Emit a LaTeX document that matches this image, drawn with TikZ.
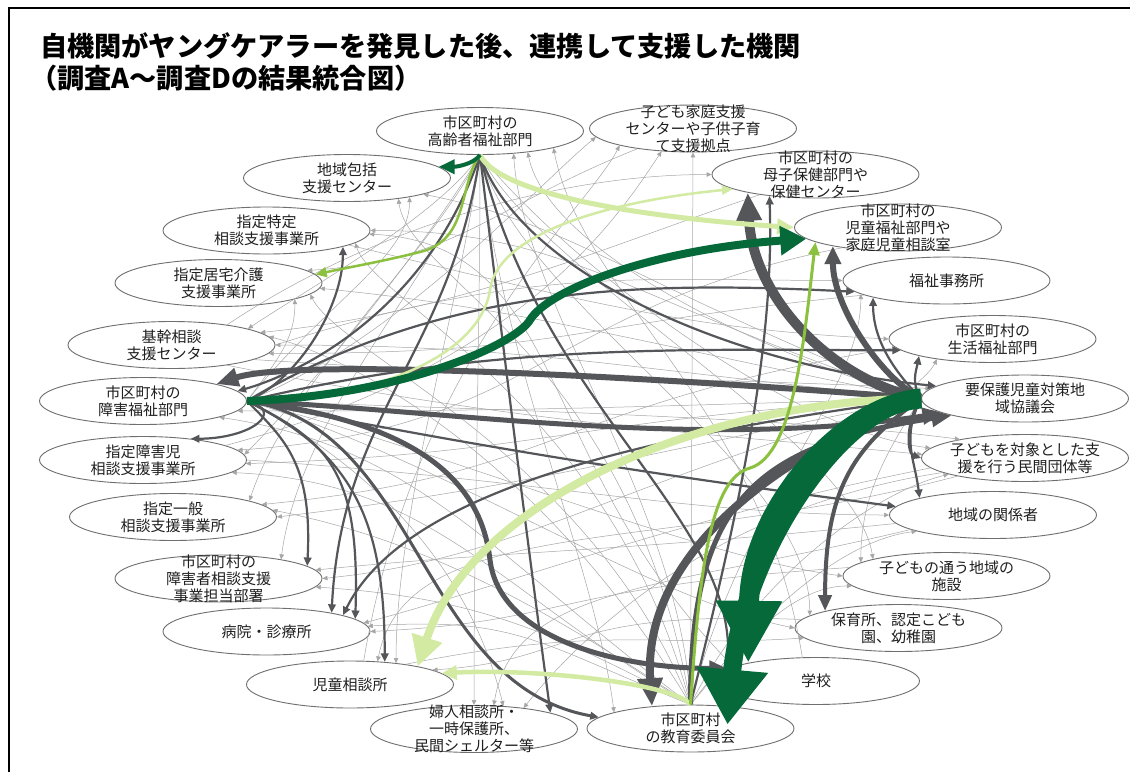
\documentclass[tikz,border=0pt]{standalone}
\usepackage{fontspec}
\setmainfont{Noto Sans CJK JP}
\usetikzlibrary{arrows.meta,shapes.geometric,calc}
\definecolor{dg}{HTML}{54565A}
\definecolor{tg}{HTML}{A6A6A6}
\definecolor{eb}{HTML}{6F6F6F}
\definecolor{dgreen}{HTML}{05693A}
\definecolor{lgreen}{HTML}{D2EAA2}
\definecolor{limeg}{HTML}{8BC13E}
\newcommand\orgnode[4]{\node[ell] (#1) at (#2,#3) {};\node[lbl] (#1-t) at (#1.center) {#4};}
\newcommand\thinc[4]{\draw[thinl] (#1) .. controls +(#2) and +(#3) .. (#4);}
\newcommand\midc[4]{\draw[midl] (#1) .. controls +(#2) and +(#3) .. (#4);}
\begin{document}
\begin{tikzpicture}[x=1pt,y=-1pt,
 ell/.style={ellipse,draw=eb,line width=0.9pt,minimum width=207pt,minimum height=47pt,inner sep=0pt,fill=white},
 lbl/.style={align=center,font=\fontsize{15}{17}\selectfont,text=black!88,inner sep=0pt},
 thinl/.style={draw=tg,line width=0.5pt,-{Triangle[length=5pt,width=4.5pt]}},
 midl/.style={draw=dg,line width=2.2pt,-{Triangle[length=8.5pt,width=7.5pt]}},
 ttl/.style={anchor=west,inner sep=0pt,font=\bfseries\fontsize{27.2}{31}\selectfont}]
\useasboundingbox (0,0) rectangle (1136,772);
\fill[white] (0,0) rectangle (1136,772);
\draw[line width=2.5pt] (9,772) -- (9,8) -- (1130,8);
\node[ttl] (title1) at (40,46) {自機関がヤングケアラーを発見した後、連携して支援した機関};
\node[ttl] (title2) at (30,78) {（調査A～調査Dの結果統合図）};
% nodes
\orgnode{koreisha}{480}{131}{市区町村の\\高齢者福祉部門}
\orgnode{kodomokatei}{693}{128.5}{子ども家庭支援\\センターや子供子育\\て支援拠点}
\orgnode{chiikihokatsu}{347}{178}{地域包括\\支援センター}
\orgnode{boshi}{815.5}{174.5}{市区町村の\\母子保健部門や\\保健センター}
\orgnode{shiteitokutei}{266.5}{230.5}{指定特定\\相談支援事業所}
\orgnode{jidofukushi}{898}{227.5}{市区町村の\\児童福祉部門や\\家庭児童相談室}
\orgnode{kyotaku}{218.5}{283}{指定居宅介護\\支援事業所}
\orgnode{fukushijimusho}{946.5}{280.5}{福祉事務所}
\orgnode{kikan}{171.5}{345}{基幹相談\\支援センター}
\orgnode{seikatsu}{992.5}{339}{市区町村の\\生活福祉部門}
\orgnode{shogai}{143}{401}{市区町村の\\障害福祉部門}
\orgnode{yogo}{1025}{398.5}{要保護児童対策地\\域協議会}
\orgnode{shogaiji}{143}{460}{指定障害児\\相談支援事業所}
\orgnode{minkan}{1025}{458}{子どもを対象とした支\\援を行う民間団体等}
\orgnode{ippan}{173}{517}{指定一般\\相談支援事業所}
\orgnode{chiiki}{993}{515}{地域の関係者}
\orgnode{shogaisoudan}{218.5}{578.5}{市区町村の\\障害者相談支援\\事業担当部署}
\orgnode{kayou}{946.5}{576}{子どもの通う地域の\\施設}
\orgnode{byoin}{266.5}{631.5}{病院・診療所}
\orgnode{hoikusho}{898.5}{628}{保育所、認定こども\\園、幼稚園}
\orgnode{jidosodan}{350}{684.5}{児童相談所}
\orgnode{gakko}{816}{681}{学校}
\orgnode{fujin}{474}{729}{婦人相談所・\\一時保護所、\\民間シェルター等}
\orgnode{kyoiku}{690.5}{728.5}{市区町村\\の教育委員会}
% thin connectors
\thinc{koreisha.south}{-40,60}{60,-40}{kikan.12}
\thinc{koreisha.south}{-40,120}{20,-150}{shogaisoudan.17}
\thinc{koreisha.south}{-50,100}{40,-120}{ippan.12}
\thinc{koreisha.south}{-60,100}{60,-60}{shogaiji.3}
\thinc{koreisha.south}{-20,150}{0,-150}{jidosodan.25}
\thinc{koreisha.south}{0,200}{0,-200}{fujin.90}
\thinc{koreisha.south}{20,200}{-20,-150}{kyoiku.168}
\thinc{koreisha.south}{40,150}{0,-150}{hoikusho.172}
\thinc{koreisha.south}{60,120}{-20,-120}{kayou.167}
\thinc{koreisha.south}{80,100}{-150,-20}{minkan.174}
\thinc{shogai.east}{150,-60}{-60,50}{kodomokatei.185}
\thinc{shogai.east}{200,50}{-150,-20}{kayou.180}
\thinc{shogai.east}{200,60}{-150,-30}{hoikusho.180}
\thinc{shogai.east}{150,80}{-30,-120}{fujin.38}
\thinc{shogai.east}{30,-40}{0,40}{kyotaku.-12}
\thinc{shogai.east}{80,-100}{0,60}{chiikihokatsu.-17}
\thinc{shogai.east}{300,10}{-150,-20}{minkan.164}
\thinc{yogo.west}{-150,-40}{20,100}{koreisha.-24}
\thinc{yogo.west}{-20,-10}{-10,20}{seikatsu.200}
\thinc{yogo.west}{-300,-30}{250,0}{kikan.0}
\thinc{yogo.west}{-300,-60}{200,20}{kyotaku.-3}
\thinc{yogo.west}{-300,-100}{200,0}{shiteitokutei.0}
\thinc{yogo.west}{-300,-120}{150,30}{chiikihokatsu.-12}
\thinc{yogo.west}{-40,60}{0,-60}{kayou.171}
\thinc{yogo.west}{-300,80}{200,-20}{shogaisoudan.0}
\thinc{yogo.west}{-300,60}{250,-30}{ippan.0}
\thinc{yogo.west}{-350,20}{300,-10}{shogaiji.-2}
\thinc{yogo.west}{-350,10}{300,0}{shogai.-6}
\thinc{kyoiku.north}{-10,-200}{10,150}{koreisha.-34}
\draw[thinl] (kyoiku.north) -- (kodomokatei.south);
\thinc{kyoiku.north}{50,-200}{0,100}{fukushijimusho.189}
\thinc{kyoiku.north}{60,-120}{-80,20}{minkan.192}
\thinc{kyoiku.north}{60,-80}{-80,10}{chiiki.192}
\thinc{kyoiku.north}{50,-60}{-60,0}{kayou.186}
\thinc{kyoiku.north}{-150,-100}{150,30}{ippan.4}
\thinc{kyoiku.north}{-100,-250}{30,60}{kyotaku.-7}
\thinc{kyoiku.north}{-80,-300}{20,60}{shiteitokutei.-8}
\thinc{kyoiku.north}{-60,-350}{10,80}{chiikihokatsu.-22}
\thinc{kyoiku.north}{-150,-250}{80,20}{kikan.5}
\thinc{kyoiku.north}{-150,-60}{150,-10}{byoin.3}
\thinc{kyoiku.north}{-150,-80}{150,10}{shogaisoudan.-5}
\thinc{kyoiku.north}{-200,-150}{200,30}{shogai.-12}
\thinc{kyoiku.north}{-200,-120}{200,10}{shogaiji.-8}
\thinc{kikan.20}{150,-100}{-150,0}{boshi.180}
\thinc{kikan.0}{250,-80}{-200,0}{fukushijimusho.180}
\thinc{shiteitokutei.-10}{250,60}{-200,-10}{seikatsu.180}
\thinc{kikan.-10}{300,20}{-200,-10}{yogo.174}
\thinc{kikan.-20}{300,60}{-200,-20}{minkan.178}
\thinc{shogaiji.0}{300,20}{-200,0}{chiiki.180}
\thinc{jidosodan.20}{200,-40}{-150,10}{hoikusho.186}
\thinc{minkan.190}{-200,30}{80,-100}{fujin.23}
\thinc{minkan.186}{-250,50}{150,-40}{byoin.5}
\thinc{boshi.200}{-150,50}{200,-20}{kikan.8}
\thinc{gakko.120}{-40,-250}{30,150}{koreisha.-13}
\thinc{gakko.170}{-200,-200}{200,10}{shiteitokutei.-2}
\thinc{jidosodan.60}{50,-300}{-30,60}{kodomokatei.193}
\thinc{shogaiji.10}{300,-80}{-40,60}{kodomokatei.216}
\thinc{chiiki.185}{-300,30}{200,-20}{shogaisoudan.5}
\thinc{kayou.175}{-300,20}{200,-10}{byoin.0}
\thinc{hoikusho.175}{-250,-10}{150,-10}{jidosodan.10}
\thinc{jidofukushi.200}{-300,60}{300,-20}{shogaiji.6}
\thinc{fukushijimusho.190}{-300,30}{300,0}{kikan.-5}
\thinc{seikatsu.185}{-350,60}{300,-30}{ippan.8}
\thinc{kodomokatei.200}{-150,60}{150,-10}{kyotaku.8}
\thinc{minkan.195}{-300,80}{30,-150}{jidosodan.40}
\thinc{chiiki.190}{-250,60}{20,-120}{fujin.50}
% medium gray connectors
\midc{koreisha.south}{-50,150}{70,-20}{shogai.6}
\midc{koreisha.south}{-30,200}{10,-200}{byoin.16}
\midc{koreisha.south}{60,250}{10,-150}{gakko.172}
\midc{koreisha.south}{30,250}{-20,-150}{fujin.12}
\midc{koreisha.south}{40,120}{-200,-20}{yogo.172}
\midc{shogai.east}{50,-20}{0,60}{shiteitokutei.-12}
\midc{shogai.east}{40,10}{60,0}{shogaiji.24}
\midc{shogai.east}{40,40}{5,-100}{shogaisoudan.8}
\midc{shogai.east}{80,40}{5,-150}{byoin.8}
\midc{shogai.east}{100,50}{0,-150}{jidosodan.33}
\draw[midl,line width=3pt] (shogai.east) .. controls +(173,26) and +(-180,-32) .. (kyoiku.173);
\midc{shogai.east}{250,-60}{-200,0}{seikatsu.187}
\midc{shogai.east}{200,-120}{-200,-10}{fukushijimusho.187}
\midc{shogai.east}{300,60}{-150,-20}{chiiki.175}
\midc{yogo.west}{-300,40}{60,-120}{byoin.12}
\midc{yogo.west}{-20,40}{-5,-40}{chiiki.167}
\midc{yogo.west}{-30,-30}{0,40}{fukushijimusho.193}
\midc{yogo.west}{-10,-15}{-3,15}{seikatsu.193}
\midc{yogo.west}{-15,20}{-15,-5}{minkan.180}
\midc{kyoiku.north}{50,-200}{5,150}{boshi.205}
% thick gray connectors
\draw[color=dg,line width=10pt,-{Triangle[length=28pt,width=24pt]}] (yogo.west) .. controls +(-89,-18) and +(5,105) .. (boshi.195);
\draw[color=dg,line width=6pt,-{Triangle[length=18pt,width=16pt]}] (yogo.west) .. controls +(-40,-20) and +(0,60) .. (jidofukushi.196);
\draw[color=dg,line width=6pt,-{Triangle[length=22pt,width=18pt]}] (yogo.west) .. controls +(-219,-18) and +(85,-28) .. (shogai.13);
\draw[color=dg,line width=5pt,-{Triangle[length=20pt,width=16pt]}] (shogai.east) .. controls +(204,10) and +(-242,37) .. (yogo.190);
\draw[color=dg,line width=5pt,-{Triangle[length=18pt,width=15pt]}] (shogai.east) .. controls (400,420) and (480,470) .. (490,560) .. controls (500,640) and (620,668) .. (gakko.172);
\draw[color=dg,line width=8pt,-{Triangle[length=28pt,width=24pt]}] (yogo.west) .. controls +(-150,60) and +(-10,-150) .. (kyoiku.150);
\draw[color=dg,line width=5pt,-{Triangle[length=20pt,width=16pt]}] (kyoiku.north) .. controls +(0,-200) and +(-200,30) .. (yogo.193);
\draw[color=dg,line width=4pt,-{Triangle[length=16pt,width=13pt]}] (yogo.west) .. controls +(-70,50) and +(0,-120) .. (hoikusho.167);
% light green
\draw[color=lgreen,line width=8pt,-{Triangle[length=30pt,width=30pt]}] (yogo.west) .. controls +(-219,2) and +(54,-166) .. (jidosodan.15);
\draw[color=lgreen,line width=5pt,-{Triangle[length=17pt,width=15pt]}] (koreisha.south) .. controls +(20,40) and +(-150,-10) .. (jidofukushi.180);
\draw[color=lgreen,line width=2.5pt,-{Triangle[length=11pt,width=9pt]}] (shogai.east) .. controls (400,398) and (482,345) .. (490,290) .. controls (498,230) and (620,200) .. (boshi.190);
\draw[color=lgreen,line width=4.5pt,-{Triangle[length=15pt,width=14pt]}] (kyoiku.north) .. controls +(-15,-20) and +(100,-5) .. (jidosodan.7);
% lime
\draw[color=limeg,line width=3pt,-{Triangle[length=13pt,width=11pt]}] (kyoiku.north) .. controls (700,560) and (712,478) .. (750,468) .. controls (795,455) and (805,330) .. (jidofukushi.190);
\draw[color=limeg,line width=2.5pt,-{Triangle[length=11pt,width=10pt]}] (koreisha.south) .. controls (458,185) and (470,240) .. (420,252) .. controls (380,262) and (345,268) .. (kyotaku.5);
% dark green
\draw[color=dgreen,line width=8pt,-{Triangle[length=26pt,width=28pt]}] (shogai.east) .. controls (400,396) and (515,345) .. (530,320) .. controls (548,290) and (650,250) .. (jidofukushi.187);
\draw[color=dgreen,line width=4pt,-{Triangle[length=16pt,width=14pt]}] (koreisha.south) .. controls +(-5,8) and +(20,0) .. (chiikihokatsu.7);
\draw[color=dgreen,line width=18pt,-{Triangle[length=55pt,width=68pt]}] (yogo.west) .. controls +(-80,5) and +(15,-170) .. ($(kyoiku.center)+(37,-4)$);
\draw[color=dgreen,line width=20pt,-{Triangle[length=62pt,width=62pt]}] (yogo.west) .. controls +(-72,5) and +(2,-160) .. (gakko.165);
\end{tikzpicture}
\end{document}
